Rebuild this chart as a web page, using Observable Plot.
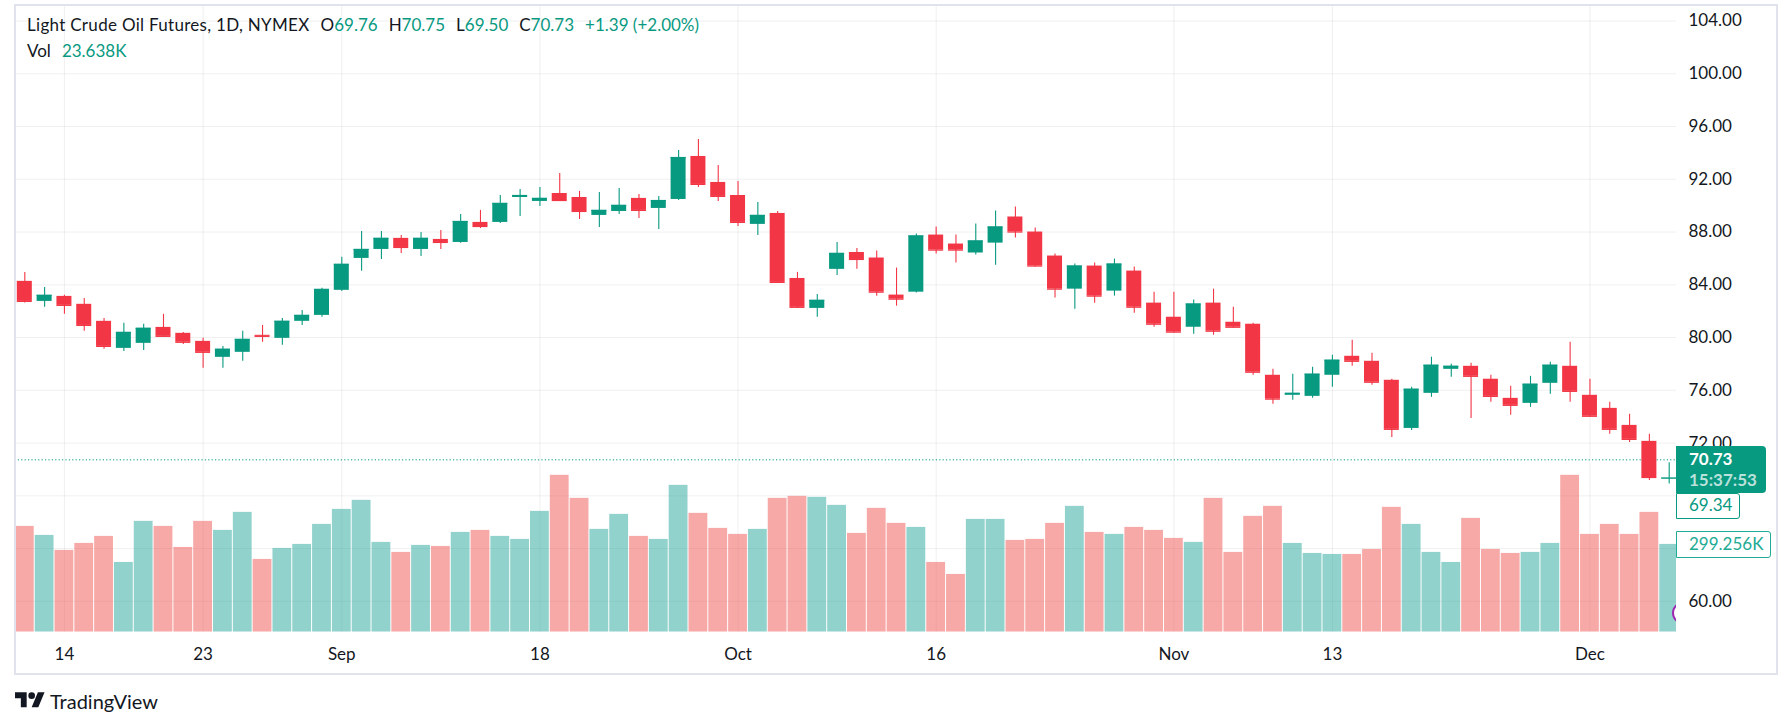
<!DOCTYPE html>
<html>
<head>
<meta charset="utf-8">
<script src="https://cdn.jsdelivr.net/npm/d3@7"></script>
<script src="https://cdn.jsdelivr.net/npm/@observablehq/plot@0.6"></script>
<style>
  html, body { margin: 0; padding: 0; background: #ffffff; }
  body { width: 1792px; height: 727px; overflow: hidden; position: relative; font-family: Lato, "Open Sans", sans-serif; color: #131722; }
  .layer { position: absolute; left: 0; top: 0; }
  .frame { position: absolute; left: 14px; top: 4px; width: 1764px; height: 671px; border: 2px solid #e0e3eb; box-sizing: border-box; pointer-events: none; }
  .legend { position: absolute; left: 27px; font-size: 17px; line-height: 20px; white-space: pre; }
  .legend .name { letter-spacing: 0.3px; }
  .legend .v { color: #089981; }
  .legend .g { margin-left: 11px; }
</style>
</head>
<body>
<div id="root"></div>
<script>
// ---------- data ----------
const dates = [
  "2023-08-10","2023-08-11","2023-08-14","2023-08-15","2023-08-16","2023-08-17","2023-08-18","2023-08-21","2023-08-22","2023-08-23",
  "2023-08-24","2023-08-25","2023-08-28","2023-08-29","2023-08-30","2023-08-31","2023-09-01","2023-09-05","2023-09-06","2023-09-07",
  "2023-09-08","2023-09-11","2023-09-12","2023-09-13","2023-09-14","2023-09-15","2023-09-18","2023-09-19","2023-09-20","2023-09-21",
  "2023-09-22","2023-09-25","2023-09-26","2023-09-27","2023-09-28","2023-09-29","2023-10-02","2023-10-03","2023-10-04","2023-10-05",
  "2023-10-06","2023-10-09","2023-10-10","2023-10-11","2023-10-12","2023-10-13","2023-10-16","2023-10-17","2023-10-18","2023-10-19",
  "2023-10-20","2023-10-23","2023-10-24","2023-10-25","2023-10-26","2023-10-27","2023-10-30","2023-10-31","2023-11-01","2023-11-02",
  "2023-11-03","2023-11-06","2023-11-07","2023-11-08","2023-11-09","2023-11-10","2023-11-13","2023-11-14","2023-11-15","2023-11-16",
  "2023-11-17","2023-11-20","2023-11-21","2023-11-22","2023-11-24","2023-11-27","2023-11-28","2023-11-29","2023-11-30","2023-12-01",
  "2023-12-04","2023-12-05","2023-12-06","2023-12-07"
];
const open = [
  84.26,82.74,83.12,82.52,81.23,79.18,79.56,80.77,80.32,79.71,
  78.50,78.88,80.17,79.94,81.23,81.68,83.58,86.00,86.68,87.52,
  86.68,87.44,87.21,88.73,88.73,90.62,90.32,90.92,90.62,89.26,
  89.56,90.55,89.79,90.47,93.73,91.76,90.77,88.58,89.41,84.48,
  82.21,85.17,86.45,86.03,83.22,83.44,87.77,87.09,86.41,87.16,
  89.14,88.00,86.18,83.67,85.42,83.52,85.04,82.61,81.54,80.78,
  82.61,81.16,81.01,77.14,75.62,75.54,77.14,78.58,78.20,76.76,
  73.11,75.77,77.59,77.82,76.84,75.39,75.01,76.53,77.82,75.62,
  74.63,73.34,72.13,69.30
];
const high = [
  84.94,83.80,83.20,82.97,81.45,81.08,81.00,81.76,80.39,79.94,
  79.33,80.47,80.92,81.45,82.06,83.73,86.08,88.05,88.05,87.74,
  87.97,88.12,89.33,89.64,90.77,91.23,91.38,92.44,91.08,91.00,
  91.30,90.85,90.70,94.18,95.02,93.05,91.83,90.24,89.56,84.94,
  83.27,87.21,86.76,86.56,85.27,87.85,88.38,87.77,88.61,89.59,
  89.90,88.30,86.33,85.57,85.65,85.95,85.34,83.44,83.44,82.84,
  83.67,82.30,81.09,77.59,77.22,77.75,78.66,79.80,78.81,76.84,
  76.23,78.51,77.97,78.05,77.14,76.30,77.06,78.13,79.65,76.84,
  75.09,74.18,72.66,70.51
];
const low = [
  82.62,82.29,81.76,80.47,79.11,78.95,79.02,80.02,79.48,77.67,
  77.67,78.20,79.64,79.41,80.92,81.53,83.50,85.02,85.92,86.38,
  86.15,86.68,87.15,88.27,88.65,89.18,89.94,90.32,88.95,88.35,
  89.33,89.03,88.20,90.39,91.38,90.32,88.42,87.74,84.10,82.21,
  81.53,84.71,85.17,83.14,82.38,83.37,86.33,85.65,86.25,85.49,
  87.54,85.35,82.99,82.15,82.61,83.14,81.85,80.78,80.33,80.25,
  80.18,80.71,77.14,74.95,75.24,75.39,76.23,77.82,76.38,72.43,
  72.96,75.47,76.99,73.87,75.09,74.10,74.71,75.70,75.09,73.95,
  72.66,72.05,69.16,68.89
];
const close = [
  82.74,83.20,82.44,80.92,79.33,80.39,80.70,80.09,79.64,78.88,
  79.11,79.86,80.09,81.23,81.68,83.65,85.55,86.68,87.52,86.83,
  87.52,87.21,88.80,88.42,90.17,90.77,90.55,90.39,89.56,89.64,
  90.02,89.64,90.39,93.65,91.61,90.70,88.73,89.26,84.18,82.29,
  82.82,86.38,85.92,83.44,82.91,87.70,86.63,86.63,87.32,88.38,
  88.00,85.42,83.67,85.42,83.14,85.57,82.30,81.01,80.41,82.54,
  80.48,80.78,77.37,75.33,75.77,77.22,78.28,78.20,76.61,73.04,
  76.08,77.90,77.82,77.06,75.54,74.86,76.46,77.90,75.92,74.03,
  73.04,72.28,69.39,69.34
];
// volume in thousands of contracts
const volume = [
  360.7,330.0,278.8,302.7,326.6,237.8,377.8,360.7,289.0,377.8,
  347.1,408.5,248.1,285.6,299.3,367.5,418.7,449.5,306.1,272.0,
  295.9,292.4,340.2,347.1,326.6,316.3,411.9,534.8,456.3,350.5,
  401.7,326.6,316.3,500.7,405.1,353.9,333.4,350.5,456.3,463.1,
  459.7,432.4,336.8,422.2,371.0,357.3,237.8,196.9,384.6,384.6,
  312.9,316.3,371.0,429.0,340.2,333.4,357.3,347.1,319.8,306.1,
  456.3,272.0,394.9,429.0,302.7,268.5,265.1,265.1,282.2,425.6,
  367.5,272.0,237.8,388.0,282.2,268.5,272.0,302.7,534.8,333.4,
  367.5,333.4,408.5,299.256
];
const tickDates = ["2023-08-14","2023-08-23","2023-09-01","2023-09-18","2023-10-02","2023-10-16","2023-11-01","2023-11-13","2023-12-01"];
const tickLabels = ["14","23","Sep","18","Oct","16","Nov","13","Dec"];
const priceTicks = [60,72,76,80,84,88,92,96,100,104];
const gridTicks = [60,64,68,72,76,80,84,88,92,96,100,104];
const lastPrice = 70.73;
const prevClose = 69.34;
const lastVolume = 299.256;
const countdown = "15:37:53";
const legendName = "Light Crude Oil Futures, 1D, NYMEX";
const legendOHLC = [["O","69.76"],["H","70.75"],["L","69.50"],["C","70.73"]];
const legendChange = "+1.39 (+2.00%)";
const legendVol = "23.638K";

// ---------- build ----------
const rows = dates.map((d, i) => ({date: d, open: open[i], high: high[i], low: low[i], close: close[i], volume: volume[i]}));
const UP = "#089981", DOWN = "#f23645";
const VUP = "#26a69a", VDOWN = "#ef5350";
const candleColor = d => d.close >= d.open ? UP : DOWN;
const volColor = d => d.close >= d.open ? VUP : VDOWN;

const W = 1792, H = 680;
const common = {
  width: W, height: H,
  marginLeft: 14.4, marginRight: 116, marginBottom: 48.3,
  x: {type: "band", domain: dates, range: [14.4, 1678.6], padding: 0, axis: null},
  color: {type: "identity"},
  style: {background: "transparent", fontFamily: "Lato, 'Open Sans', sans-serif", fontSize: "17px", color: "#131722", overflow: "visible"}
};

const pricePlot = Plot.plot({
  ...common,
  marginTop: 6,
  y: {domain: [57.66, 105.1], axis: null},
  marks: [
    Plot.gridY(gridTicks, {stroke: "#2a2e39", strokeOpacity: 0.07, strokeWidth: 1}),
    Plot.gridX(tickDates, {stroke: "#2a2e39", strokeOpacity: 0.07, strokeWidth: 1}),
    Plot.axisY(priceTicks, {anchor: "right", tickSize: 0, tickPadding: 12, tickFormat: d => d.toFixed(2), label: null}),
    Plot.axisX(tickDates, {anchor: "bottom", tickSize: 0, tickPadding: 16, tickFormat: d => tickLabels[tickDates.indexOf(d)], label: null}),
    Plot.ruleY([lastPrice], {stroke: UP, strokeDasharray: "1.2,2.2", strokeWidth: 1}),
    Plot.ruleX(rows, {x: "date", y1: "low", y2: "high", stroke: candleColor, strokeWidth: 1.1}),
    Plot.barY(rows, {x: "date", y1: "open", y2: "close", fill: candleColor, insetLeft: 2.4, insetRight: 2.4}),
    Plot.tickY(rows, {x: "date", y: "close", stroke: candleColor, strokeWidth: 1.2, insetLeft: 2.4, insetRight: 2.4})
  ]
});

const volPlot = Plot.plot({
  ...common,
  marginTop: 455.7,
  y: {domain: [0, 600], axis: null},
  marks: [
    Plot.barY(rows, {x: "date", y: "volume", fill: volColor, fillOpacity: 0.5, insetLeft: 0.5, insetRight: 0.5, clip: true})
  ]
});

const root = document.getElementById("root");
pricePlot.classList.add("layer");
volPlot.classList.add("layer");
root.appendChild(pricePlot);
root.appendChild(volPlot);

// price-scale driven labels
const py = pricePlot.scale("y").apply(lastPrice);
const vy = volPlot.scale("y").apply(lastVolume);

function addDiv(html, css) {
  const el = document.createElement("div");
  el.innerHTML = html;
  el.style.cssText = css;
  document.body.appendChild(el);
  return el;
}

// purple event marker, partly hidden by the price scale
addDiv(`<div style="position:absolute;left:11.7px;top:4px;width:22px;height:22px;box-sizing:border-box;border:2px solid #9c27b0;border-radius:50%;background:#fff"></div>`,
  "position:absolute;left:1660px;top:598px;width:16px;height:30px;overflow:hidden;");

const boxTop = py - 13.6, boxH = 47.6;
addDiv(`<div style="position:absolute;left:13px;top:3.6px;line-height:20px;font-weight:700;color:#ffffff">${lastPrice.toFixed(2)}</div>
        <div style="position:absolute;left:13px;top:24.4px;line-height:20px;font-weight:700;color:rgba(255,255,255,0.72)">${countdown}</div>`,
  `position:absolute;left:1676px;top:${boxTop}px;width:90px;height:${boxH}px;background:${UP};border-radius:0 4px 4px 0;font-size:17px;`);

addDiv(`${prevClose.toFixed(2)}`,
  `position:absolute;left:1676px;top:${boxTop + boxH}px;width:64.3px;height:25.4px;box-sizing:border-box;background:#fff;border:1.5px solid ${UP};border-radius:0 3px 3px 0;color:${UP};font-size:17px;line-height:22.4px;padding-left:12px;`);

addDiv(`${lastVolume.toFixed(3)}K`,
  `position:absolute;left:1676px;top:${vy - 13}px;width:94.7px;height:26.7px;box-sizing:border-box;background:#fff;border:1.5px solid #22ab94;border-radius:0 3px 3px 0;color:#22ab94;font-size:17px;line-height:23.7px;padding-left:12px;`);

// frame
addDiv("", "").className = "frame";

// legend
const l1 = addDiv("", "top:15px;");
l1.className = "legend";
l1.innerHTML = `<span class="name">${legendName}</span>` +
  legendOHLC.map(([k, v]) => `<span class="g">${k}<span class="v">${v}</span></span>`).join("") +
  `<span class="g v">${legendChange}</span>`;
const l2 = addDiv(`<span>Vol</span><span class="g v">${legendVol}</span>`, "top:41px;");
l2.className = "legend";

// TradingView logo
addDiv(`<svg width="30" height="23.3" viewBox="0 0 36 28" style="position:absolute;left:0;top:0"><path fill="#131722" d="M14 22H7V11H0V4h14v18zM28 22h-8l7.5-18h8L28 22z"/><circle fill="#131722" cx="20" cy="8" r="4"/></svg>
        <span style="position:absolute;left:35px;top:0px;font-size:20px;line-height:24px;color:#131722;white-space:nowrap">TradingView</span>`,
  "position:absolute;left:15px;top:688.7px;width:200px;height:30px;");
</script>
</body>
</html>
